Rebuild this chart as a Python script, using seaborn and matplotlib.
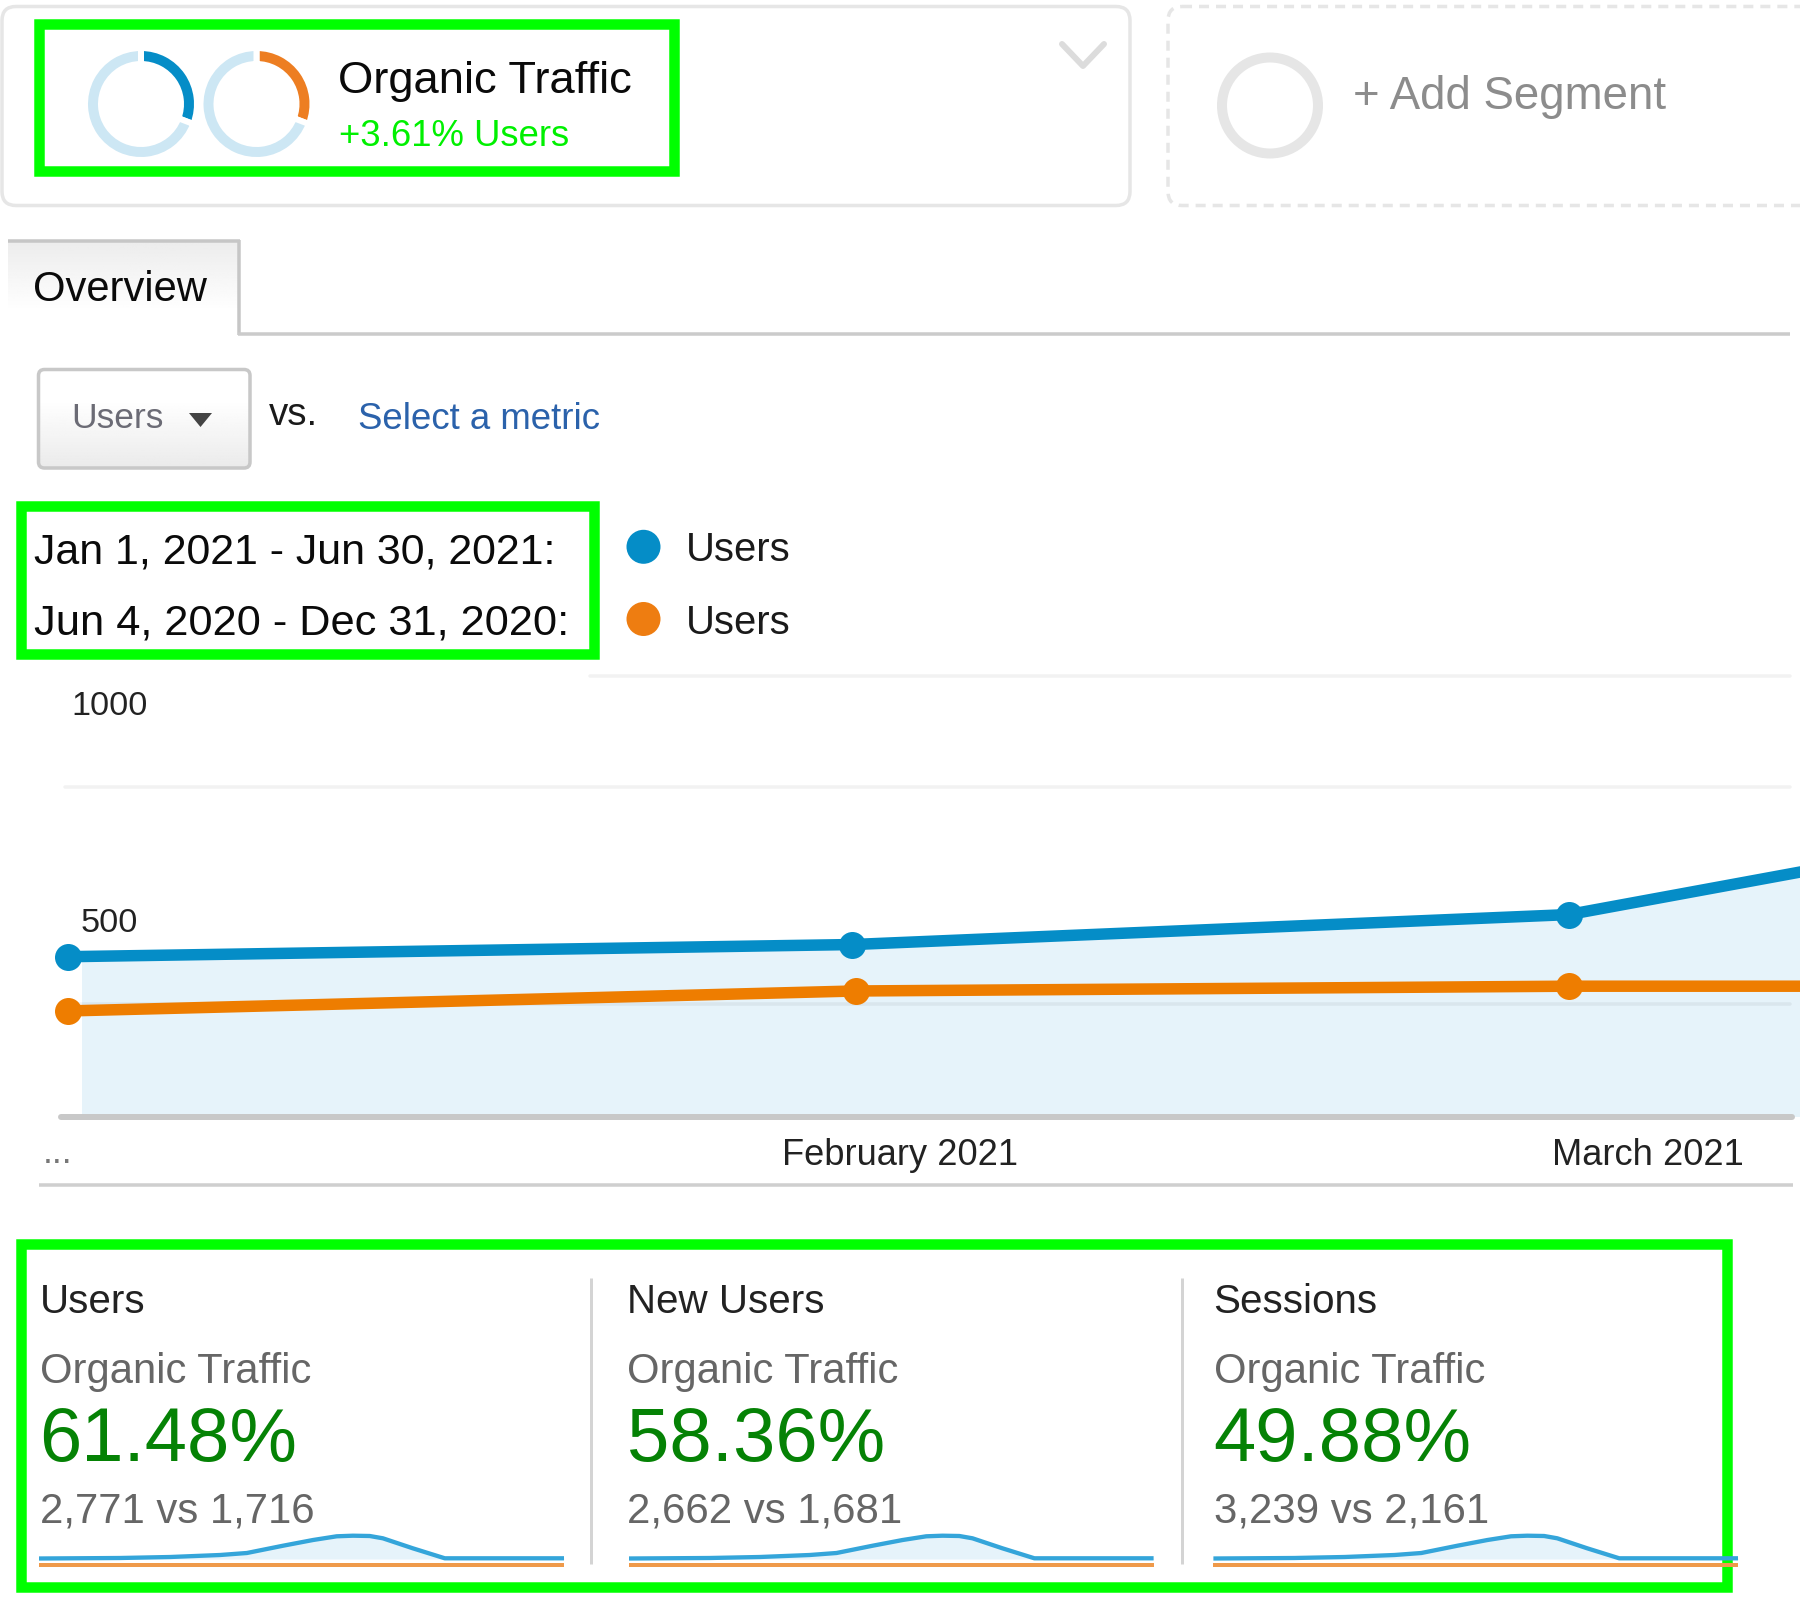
import numpy as np
import pandas as pd
import matplotlib
matplotlib.use("Agg")
import matplotlib.pyplot as plt
import seaborn as sns
from matplotlib.patches import FancyBboxPatch, Circle, Polygon, Rectangle
from matplotlib.transforms import ScaledTranslation

# ---------- data ----------
dates_current = ["2021-01-01 00:00", "2021-01-31 20:00", "2021-03-01 00:00", "2021-04-01 00:00"]
dates_previous = ["2021-01-01 00:00", "2021-01-31 23:00", "2021-03-01 00:00", "2021-04-01 00:00"]
users_current = [609, 637, 706, 1040]
users_previous = [484, 530, 541, 541]
range_labels = ["Jan 1, 2021 - Jun 30, 2021:", "Jun 4, 2020 - Dec 31, 2020:"]
y_ticks = [500, 1000]
y_tick_labels = ["500", "1000"]
x_tick_dates = ["2021-02-02 17:00", "2021-03-04 03:00"]
x_tick_labels = ["February 2021", "March 2021"]

ring_share_current = [30.8, 69.2]
ring_share_previous = [30.8, 69.2]

metric_names = ["Users", "New Users", "Sessions"]
metric_changes = ["61.48%", "58.36%", "49.88%"]
metric_compare = ["2,771 vs 1,716", "2,662 vs 1,681", "3,239 vs 2,161"]
spark_pos = [0, 0.154, 0.25, 0.345, 0.396, 0.465, 0.522, 0.567, 0.598, 0.63, 0.655, 0.712, 0.773, 1.0]
spark_current = [5.8, 6.3, 7.3, 9.3, 11.3, 18.6, 24.3, 28, 28.6, 28.3, 26, 16, 6, 6]
spark_previous = [-0.3] * 14

# ---------- setup ----------
sns.set_theme(style="white")
plt.rcParams["font.family"] = ["Liberation Sans", "DejaVu Sans"]
W, H = 1800, 1610
BLUE, ORANGE = "#058dc7", "#ee7d00"
GREEN = "#00ff00"
fig = plt.figure(figsize=(W / 100, H / 100), dpi=100, facecolor="white")
PT = 0.72  # points per pixel


def px_axes(l, t, r, b, z=2):
    a = fig.add_axes([l / W, 1 - b / H, (r - l) / W, (b - t) / H], zorder=z)
    a.patch.set_alpha(0)
    return a


ov = px_axes(0, 0, W, H, z=0)
ov.axis("off")


def T(x, y, s, px, color, ha="left"):
    ov.text(x, y, s, fontsize=px * PT, color=color, ha=ha, va="baseline", zorder=5)


def box(x0, y0, x1, y1, r=0, lw=3.5, ec="#e6e6e6", fc="none", ls="-", z=1):
    p = FancyBboxPatch((x0, y0), x1 - x0, y1 - y0, boxstyle=f"round,pad=0,rounding_size={r}",
                       ec=ec, fc=fc, lw=lw * PT, ls=ls, zorder=z, mutation_aspect=1)
    ov.add_patch(p)
    return p


def frame(x0, y0, x1, y1):
    ov.add_patch(Rectangle((x0 + 5, y0 + 5), x1 - x0 - 10, y1 - y0 - 10, fc="none", ec=GREEN,
                           lw=10.5 * PT, joinstyle="miter", zorder=3))


def hline(x0, x1, y, c, lw=3.5):
    ov.plot([x0, x1], [y, y], color=c, lw=lw * PT, solid_capstyle="butt", zorder=2)


def vline(x, y0, y1, c, lw=3.5):
    ov.plot([x, x], [y0, y1], color=c, lw=lw * PT, solid_capstyle="butt", zorder=2)


# ---------- segment cards ----------
box(2, 6.5, 1130, 205.5, r=14)
box(1168, 6.5, 1900, 205.5, r=14, ls=(0, (2.86, 2.0)))
frame(34, 18.7, 678.5, 176.5)

for cx, vals, col in [(141, ring_share_current, "#058dc7"), (256.5, ring_share_previous, "#ed7e22")]:
    R = 56
    ra = px_axes(cx - R, 104 - R, cx + R, 104 + R, z=4)
    ra.pie(vals, colors=[col, "#cde7f4"], startangle=90, counterclock=False, radius=1,
           wedgeprops=dict(width=16 / R, edgecolor="white", linewidth=6 * PT))
    ra.set_xlim(-1, 1)
    ra.set_ylim(-1, 1)

T(338, 93, "Organic Traffic", 45.4, "#0a0a0a")
T(339, 146, "+3.61% Users", 36.5, "#00f000")
ov.plot([1062, 1083, 1104], [44, 66, 44], color="#dcdcdc", lw=6 * PT, solid_capstyle="round",
        solid_joinstyle="round", zorder=2)
ov.add_patch(Circle((1270, 105.5), 48, fc="none", ec="#e6e6e6", lw=10 * PT, zorder=2))
T(1353, 109, "+ Add Segment", 45.6, "#8c8c8c")

# ---------- tab ----------
tab_grad = np.linspace(0.925, 1.0, 64).reshape(-1, 1)
ov.imshow(tab_grad, extent=(8, 238, 312, 241), aspect="auto", cmap="gray", vmin=0, vmax=1, zorder=0.5)
hline(7.5, 239.5, 241.5, "#c6c6c6", 3.5)
vline(238.5, 240, 335.5, "#c6c6c6", 3.5)
hline(238, 1790, 334.5, "#cbcbcb", 3.5)
T(33, 301, "Overview", 41.8, "#0a0a0a")

# ---------- metric selector ----------
btn = box(38.5, 369.5, 250, 468, r=6, ec="#c8c8c8", lw=3.5, z=2)
btn_grad = np.concatenate([np.ones(20), np.linspace(1.0, 0.92, 44)]).reshape(-1, 1)
bim = ov.imshow(btn_grad, extent=(38, 251, 468, 369), aspect="auto", cmap="gray", vmin=0, vmax=1, zorder=0.6)
bim.set_clip_path(FancyBboxPatch((38.5, 369.5), 211.5, 98.5, boxstyle="round,pad=0,rounding_size=6",
                                 transform=ov.transData))
T(71, 428, "Users", 35.4, "#6b6b75")
ov.add_patch(Polygon([(189, 413), (212, 413), (200.5, 427)], closed=True, fc="#444444", ec="none", zorder=3))
T(269, 425, "vs.", 38.5, "#1a1a1a")
T(358, 429, "Select a metric", 36.6, "#2b62ab")

# ---------- date range legend ----------
frame(16, 501.2, 598.5, 659)
T(34, 563, range_labels[0], 42.9, "#0a0a0a")
T(34, 634, range_labels[1], 43.4, "#0a0a0a")
for y, col in [(546.8, BLUE), (619, "#ee7d11")]:
    ov.add_patch(Circle((643.5, y), 17, fc=col, ec="none", zorder=3))
T(686, 561, "Users", 40, "#1a1a1a")
T(686, 634, "Users", 40, "#1a1a1a")

# ---------- main line chart ----------
AL, AR, AT, AB = 60, 1800, 675.5, 1117
PX_PER_DAY, X0 = 25.43, 68.3
PX_PER_USER, Y500 = 0.434, 1004
t0 = pd.Timestamp(dates_current[0])
ax = px_axes(AL, AT, AR, AB, z=2)
d_cur = pd.to_datetime(dates_current)
d_prev = pd.to_datetime(dates_previous)
df = pd.DataFrame({
    "date": list(d_cur) + list(d_prev),
    "users": users_current + users_previous,
    "range": [range_labels[0]] * 4 + [range_labels[1]] * 4,
})
y_lo = 500 - (AB - Y500) / PX_PER_USER
y_hi = 500 + (Y500 - AT) / PX_PER_USER

area = ax.fill_between(d_cur, users_current, y_lo, color="#e6f3fa", lw=0, zorder=1)
area.set_clip_path(Rectangle((82, 0), W, H, transform=ov.transData))


def frac(px):
    return (px - AL) / (AR - AL)


ax.axhline(1000, frac(65), frac(1790), color="black", alpha=0.05, lw=3.5 * PT, zorder=1.5)
ax.axhline(500, frac(65), frac(1790), color="black", alpha=0.05, lw=3.5 * PT, zorder=1.5)
ax.axhline(y_hi, frac(590), frac(1790), color="black", alpha=0.05, lw=3.5 * PT, zorder=1.5, clip_on=False)
ax.axhline(y_lo, frac(60.5), frac(1792), color="#c8c8c8", lw=6 * PT, zorder=1.6, clip_on=False)

sns.lineplot(data=df, x="date", y="users", hue="range", palette=[BLUE, ORANGE], marker="o",
             markersize=27 * PT, markeredgewidth=0, linewidth=11.5 * PT, legend=False,
             estimator=None, ax=ax, zorder=3)
for ln in ax.get_lines():
    if abs(ln.get_linewidth() - 11.5 * PT) < 1e-6:
        ln.set_clip_on(False)
        ln.set_solid_capstyle("butt")

ax.set_xlim(t0 + pd.Timedelta(days=(AL - X0) / PX_PER_DAY), t0 + pd.Timedelta(days=(AR - X0) / PX_PER_DAY))
ax.set_ylim(y_lo, y_hi)
ax.set_xlabel("")
ax.set_ylabel("")
sns.despine(ax=ax, left=True, bottom=True)
ax.set_xticks(pd.to_datetime(x_tick_dates))
ax.set_xticklabels(x_tick_labels, fontsize=36.2 * PT, color="#222222")
ax.tick_params(axis="x", length=0, pad=20.5 * PT)
ax.set_yticks(y_ticks)
ax.set_yticklabels(y_tick_labels, fontsize=34.3 * PT, color="#222222")
ax.tick_params(axis="y", length=0, pad=0)
offset = ScaledTranslation(49.5 / 100, 72 / 100, fig.dpi_scale_trans)
for lab in ax.get_yticklabels():
    lab.set_ha("center")
    lab.set_va("baseline")
    lab.set_transform(lab.get_transform() + offset)
ax.grid(False)

T(43, 1163, "...", 36, "#777777")
hline(39, 1793, 1185, "#cfcfcf", 3.5)

# ---------- metric panels ----------
frame(16, 1239, 1732, 1591.7)
vline(591, 1277.7, 1564, "#d4d4d4", 3)
vline(1182, 1277.7, 1564, "#d4d4d4", 3)
for x, spark_x, name, chg, cmp_ in zip([40, 627, 1213.5], [39, 628.6, 1213.4],
                                       metric_names, metric_changes, metric_compare):
    T(x, 1312.7, name, 40.4, "#222222")
    T(x, 1382.7, "Organic Traffic", 41.7, "#666666")
    T(x - 0.5, 1461, chg, 76, "#058205")
    T(x, 1522.7, cmp_, 41.9, "#666666")
    sa = px_axes(spark_x, 1530.3, spark_x + 525, 1570.3, z=4)
    sa.set_xlim(0, 1)
    sa.set_ylim(-6, 34)
    sa.fill_between(spark_pos, spark_current, 5.3, color="#e6f3fa", lw=0, zorder=1)
    sns.lineplot(x=spark_pos, y=spark_previous, color="#ef9a4a", linewidth=4 * PT, estimator=None, ax=sa, zorder=2)
    sns.lineplot(x=spark_pos, y=spark_current, color="#34a5da", linewidth=4.3 * PT, estimator=None, ax=sa, zorder=3)
    for ln in sa.get_lines():
        ln.set_solid_capstyle("butt")
    sa.axis("off")

ov.set_xlim(0, W)
ov.set_ylim(H, 0)
fig.savefig("out.png", dpi=100, facecolor="white")
